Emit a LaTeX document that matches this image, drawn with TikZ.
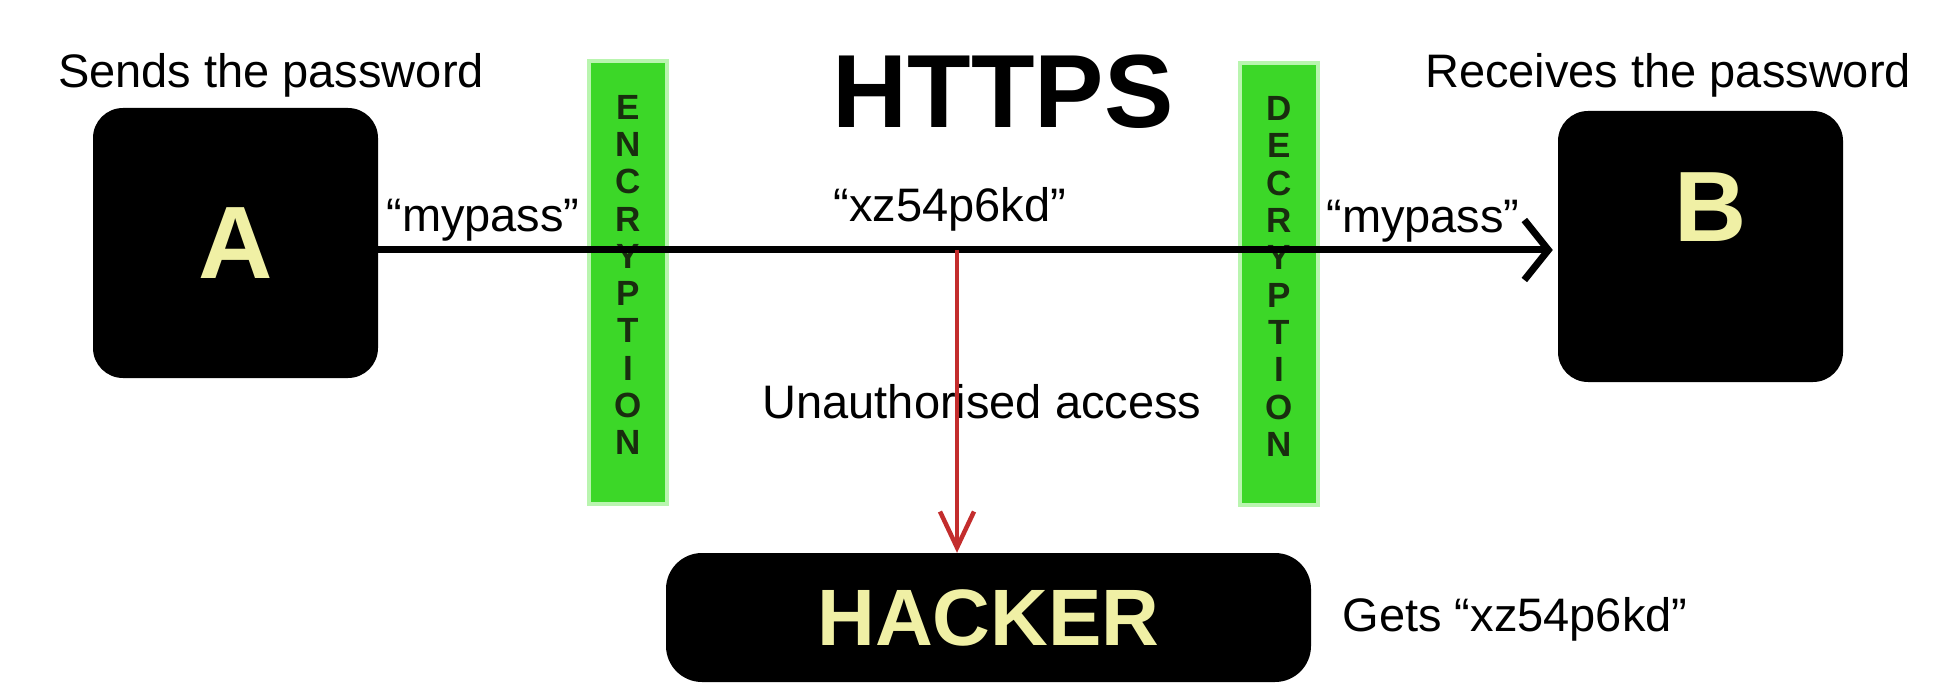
\documentclass[tikz,border=0pt]{standalone}
\usepackage{fontspec}
\setmainfont{Liberation Sans}
\usetikzlibrary{arrows.meta}
\definecolor{barg}{RGB}{60,215,40}
\definecolor{glowg}{RGB}{185,245,175}
\definecolor{paley}{RGB}{240,240,165}
\definecolor{redline}{RGB}{195,45,45}
\definecolor{bartext}{RGB}{25,45,15}
\newcommand{\txtsize}{\fontsize{47}{56}\selectfont}

\begin{document}
\begin{tikzpicture}[x=1pt,y=-1pt,
  box/.style={fill=black, rounded corners=30pt, inner sep=0pt, text=paley,
    font=\fontsize{103}{110}\selectfont\bfseries},
  bigletter/.style={text=paley, inner sep=0pt, font=\fontsize{100}{110}\selectfont\bfseries},
  bar/.style={fill=barg, inner sep=0pt, minimum width=74pt, minimum height=438pt,
    text=bartext, align=center, font=\fontsize{35}{37.3}\selectfont\bfseries,
    preaction={draw=glowg, line width=8pt}},
  lbl/.style={font=\txtsize, inner sep=0pt, anchor=base},
  mainline/.style={line width=7pt, -{Straight Barb[length=24pt,width=60pt]}, shorten >=5pt},
  redarrow/.style={draw=redline, line width=4.5pt, -{Straight Barb[length=36pt,width=34pt]}}
]
\useasboundingbox (0,0) rectangle (1940,700);

% encryption / decryption bars
\node[bar] (enc) at (628,282.5) {E\\N\\C\\R\\Y\\P\\T\\I\\O\\N\rule[-15pt]{0pt}{15pt}};
\node[bar] (dec) at (1279,284) {D\\E\\C\\R\\Y\\P\\T\\I\\O\\N\rule[-15pt]{0pt}{15pt}};

% end points
\node[box, minimum width=285pt, minimum height=270pt] (A) at (235.5,243) {A};
\node[box, minimum width=285pt, minimum height=271pt] (B) at (1700.5,246.5) {};
\node[bigletter] (Bl) at (1711,207) {B};
\node[box, rounded corners=36pt, minimum width=645pt, minimum height=129pt,
  font=\fontsize{80}{90}\selectfont\bfseries] (H) at (988.5,617.5) {HACKER};

% title and labels
\node[anchor=base, inner sep=0pt, font=\fontsize{104}{110}\selectfont\bfseries] (title) at (1003,128) {HTTPS};
\node[lbl] (sends) at (271,88) {Sends the password};
\node[lbl] (recv) at (1668,88) {Receives the password};
\node[lbl] (p1) at (483,232) {“mypass”};
\node[lbl] (enc1) at (950,222) {“xz54p6kd”};
\node[lbl] (p2) at (1423,233) {“mypass”};
\node[lbl] (unauth) at (982,418) {Unauthorised access};
\node[lbl] (gets) at (1515,631) {Gets “xz54p6kd”};

% connectors
\coordinate (L) at (0,250);
\draw[mainline] (A.east |- L) -- (B.west |- L);
\coordinate (tap) at (957,250);
\draw[redarrow] (tap) -- (tap |- H.north);
\end{tikzpicture}
\end{document}
